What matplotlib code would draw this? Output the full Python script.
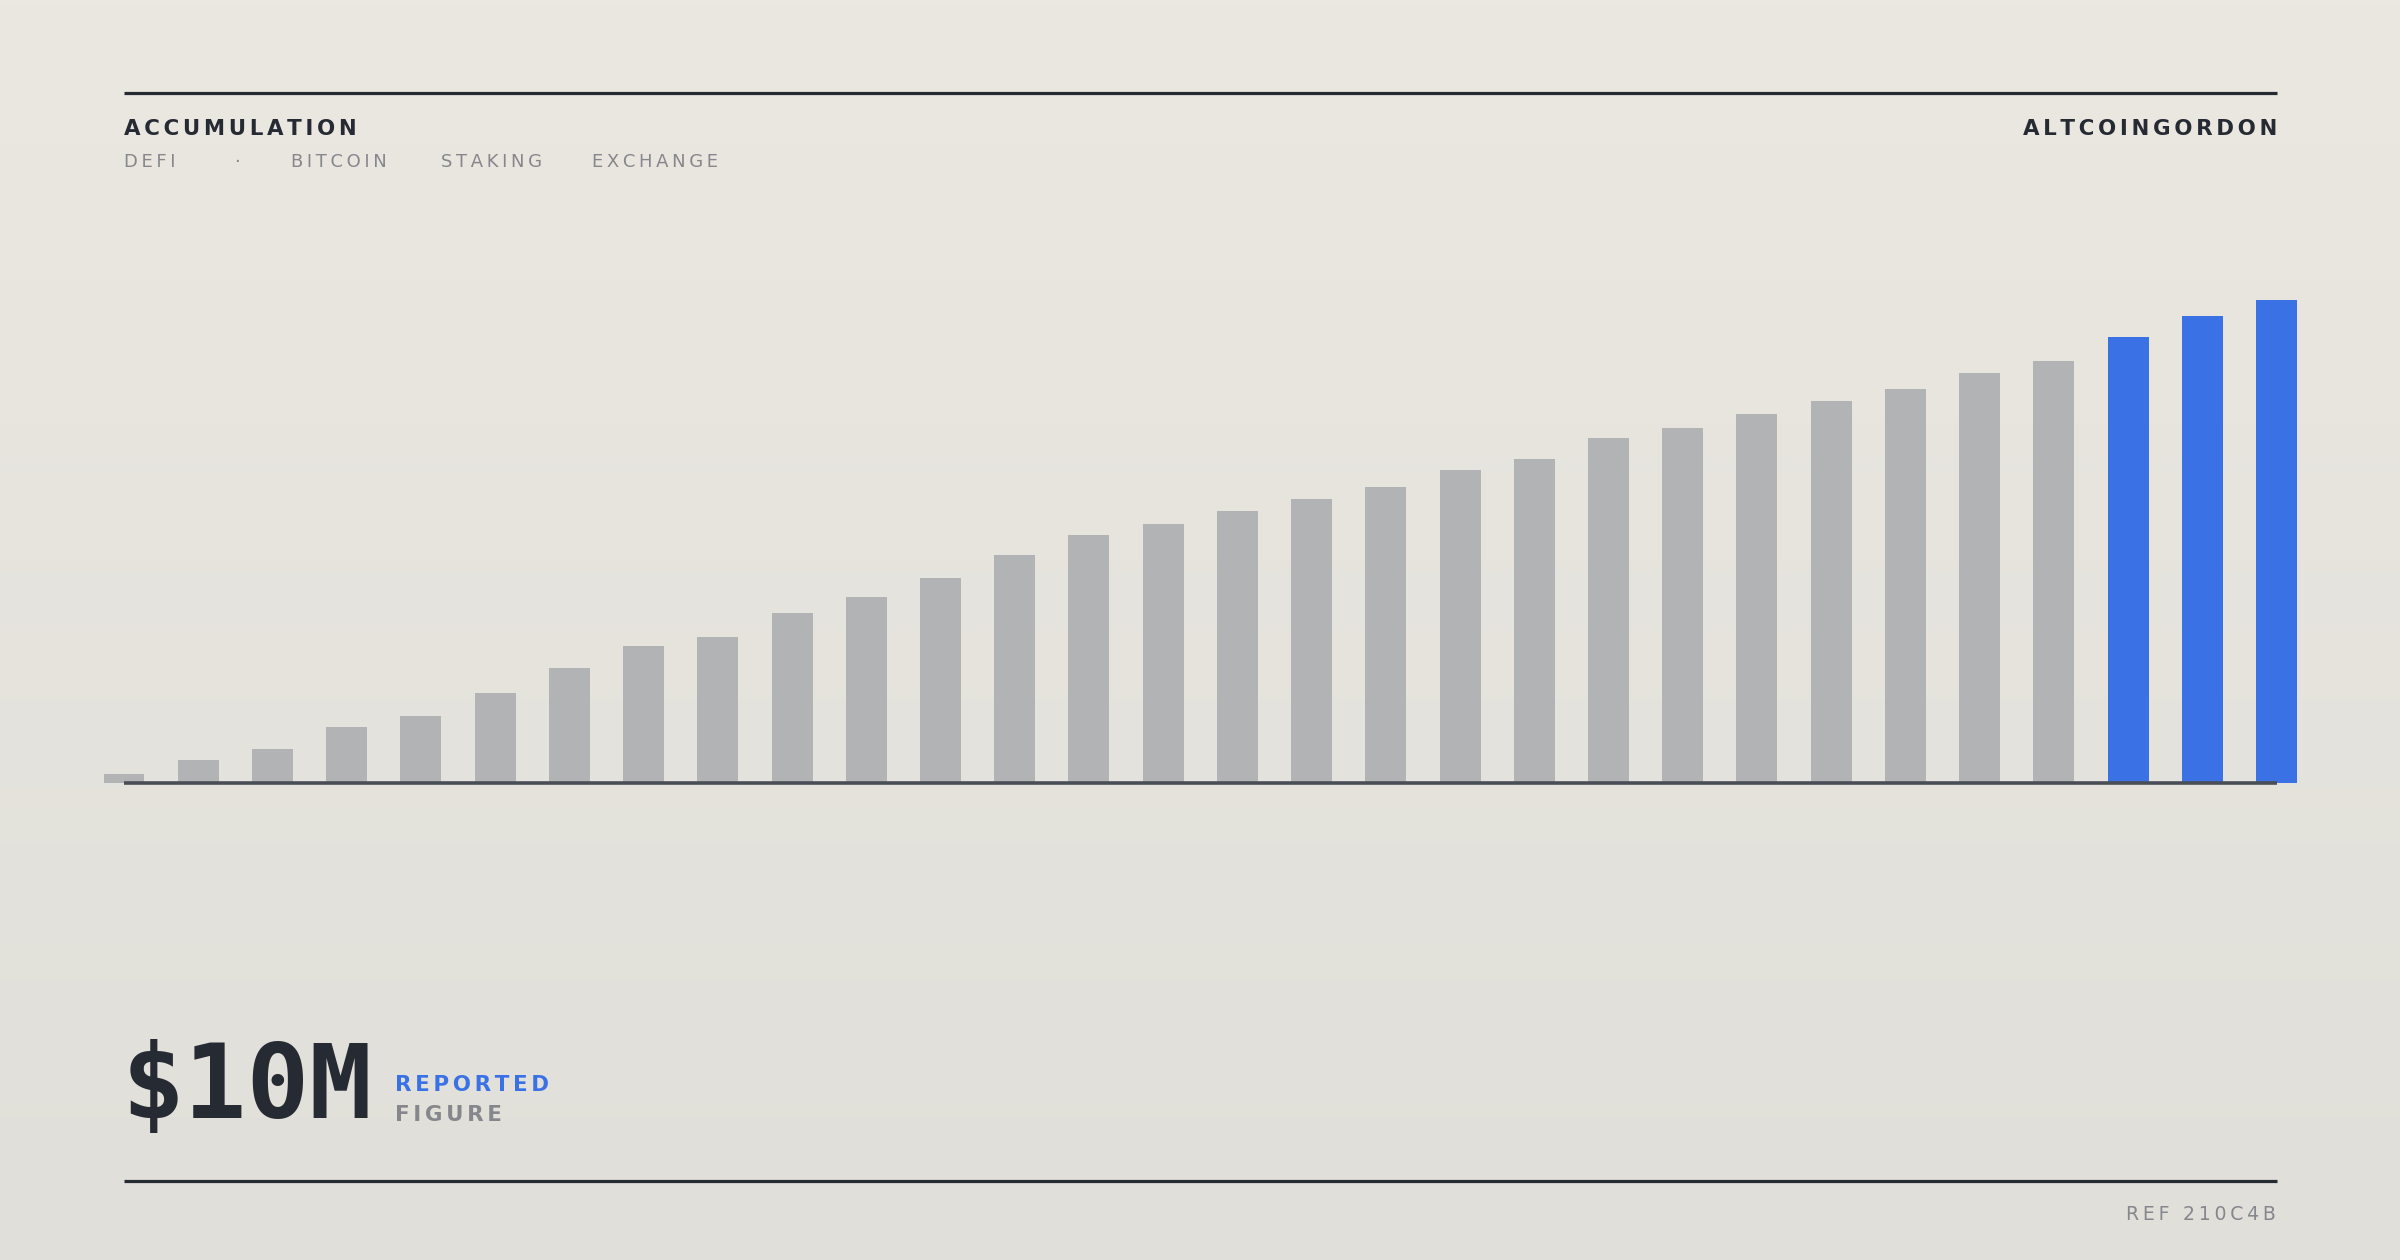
import numpy as np
import matplotlib
matplotlib.use("Agg")
import matplotlib.pyplot as plt
from matplotlib.lines import Line2D
from matplotlib.colors import to_rgb

# ---------------- data ----------------
values = [0.19, 0.48, 0.70, 1.16, 1.39, 1.86, 2.38, 2.84, 3.02, 3.52,
          3.85, 4.24, 4.72, 5.13, 5.36, 5.63, 5.88, 6.13, 6.48, 6.71,
          7.14, 7.35, 7.64, 7.91, 8.16, 8.49, 8.74, 9.23, 9.67, 10.0]
highlight = [False] * 27 + [True] * 3
title = "ACCUMULATION"
brand = "ALTCOINGORDON"
tags = ["DEFI", "·", "BITCOIN", "STAKING", "EXCHANGE"]
headline = "$10M"
headline_sub = ["REPORTED", "FIGURE"]
ref = "REF 210C4B"

# ---------------- style ----------------
W, H, DPI = 2400, 1260, 200
BG_TOP, BG_BOT = "#EBE8E1", "#E0DFD9"
GRAY_BAR = "#B2B3B5"
BLUE = "#3A72E6"
DARK = "#262A33"
BASE = "#494D56"
MUTED = "#86878D"
THIN = "\u2009"
SIXTH = "\u2006"


def track(s, sp=THIN):
    return sp.join(s)


def fx(x):
    return x / W


def fy(y):
    return 1 - y / H


fig = plt.figure(figsize=(W / DPI, H / DPI), dpi=DPI)

# background gradient
bg = fig.add_axes([0, 0, 1, 1], zorder=0)
t = np.linspace(0, 1, 256)[:, None]
c0, c1 = np.array(to_rgb(BG_TOP)), np.array(to_rgb(BG_BOT))
grad = (c0[None, None, :] * (1 - t[..., None]) + c1[None, None, :] * t[..., None])
bg.imshow(grad, aspect="auto", extent=[0, 1, 0, 1], origin="upper")
bg.set_axis_off()

# chart axes
n = len(values)
step = (2276.5 - 124.0) / (n - 1)
left_px = 124.0 - step / 2
ax = fig.add_axes([fx(left_px), fy(783), (step * n) / W, 483 / H], zorder=2)
ax.patch.set_alpha(0)
ax.set_xlim(-0.5, n - 0.5)
ax.set_ylim(0, 10.0)
ax.set_axis_off()
xs = np.arange(n)
cols = [BLUE if h else GRAY_BAR for h in highlight]
ax.bar(xs, values, width=0.552, color=cols, linewidth=0, zorder=2)
ax.plot([xs[0], xs[-1]], [0, 0], color=BASE, lw=3.6 * 72 / DPI,
        solid_capstyle="butt", zorder=3, clip_on=False)

# rules
for y in (93, 1180.5):
    fig.add_artist(Line2D([fx(124), fx(2277)], [fy(y), fy(y)],
                          transform=fig.transFigure, color=DARK,
                          lw=3.2 * 72 / DPI, solid_capstyle="butt", zorder=5))

LAB = ["DejaVu Sans"]
fig.text(fx(124), fy(135), track(title, SIXTH), fontsize=7.7, fontweight="bold",
         color=DARK, family=LAB, ha="left", va="baseline", zorder=6)
fig.text(fx(2277), fy(135), track(brand, SIXTH), fontsize=7.7, fontweight="bold",
         color=DARK, family=LAB, ha="right", va="baseline", zorder=6)

tag_x = [124, 237, 291, 441, 592]
for lab, x in zip(tags, tag_x):
    fig.text(fx(x), fy(167), track(lab), fontsize=6.5, color=MUTED,
             family=LAB, ha="center" if lab == "·" else "left",
             va="baseline", zorder=6)

fig.text(fx(122), fy(1118), headline, fontsize=37.5, fontweight="bold",
         color=DARK, family=["DejaVu Sans Mono"], ha="left", va="baseline",
         zorder=6)
fig.text(fx(395), fy(1091), track(headline_sub[0], SIXTH), fontsize=7.7,
         fontweight="bold", color=BLUE, family=LAB, ha="left",
         va="baseline", zorder=6)
fig.text(fx(395), fy(1121), track(headline_sub[1], SIXTH), fontsize=7.7,
         fontweight="bold", color=MUTED, family=LAB, ha="left",
         va="baseline", zorder=6)

fig.text(fx(2276), fy(1220), track(ref), fontsize=6.8, color=MUTED,
         family=LAB, ha="right", va="baseline", zorder=6)

fig.savefig("out.png", dpi=DPI)
